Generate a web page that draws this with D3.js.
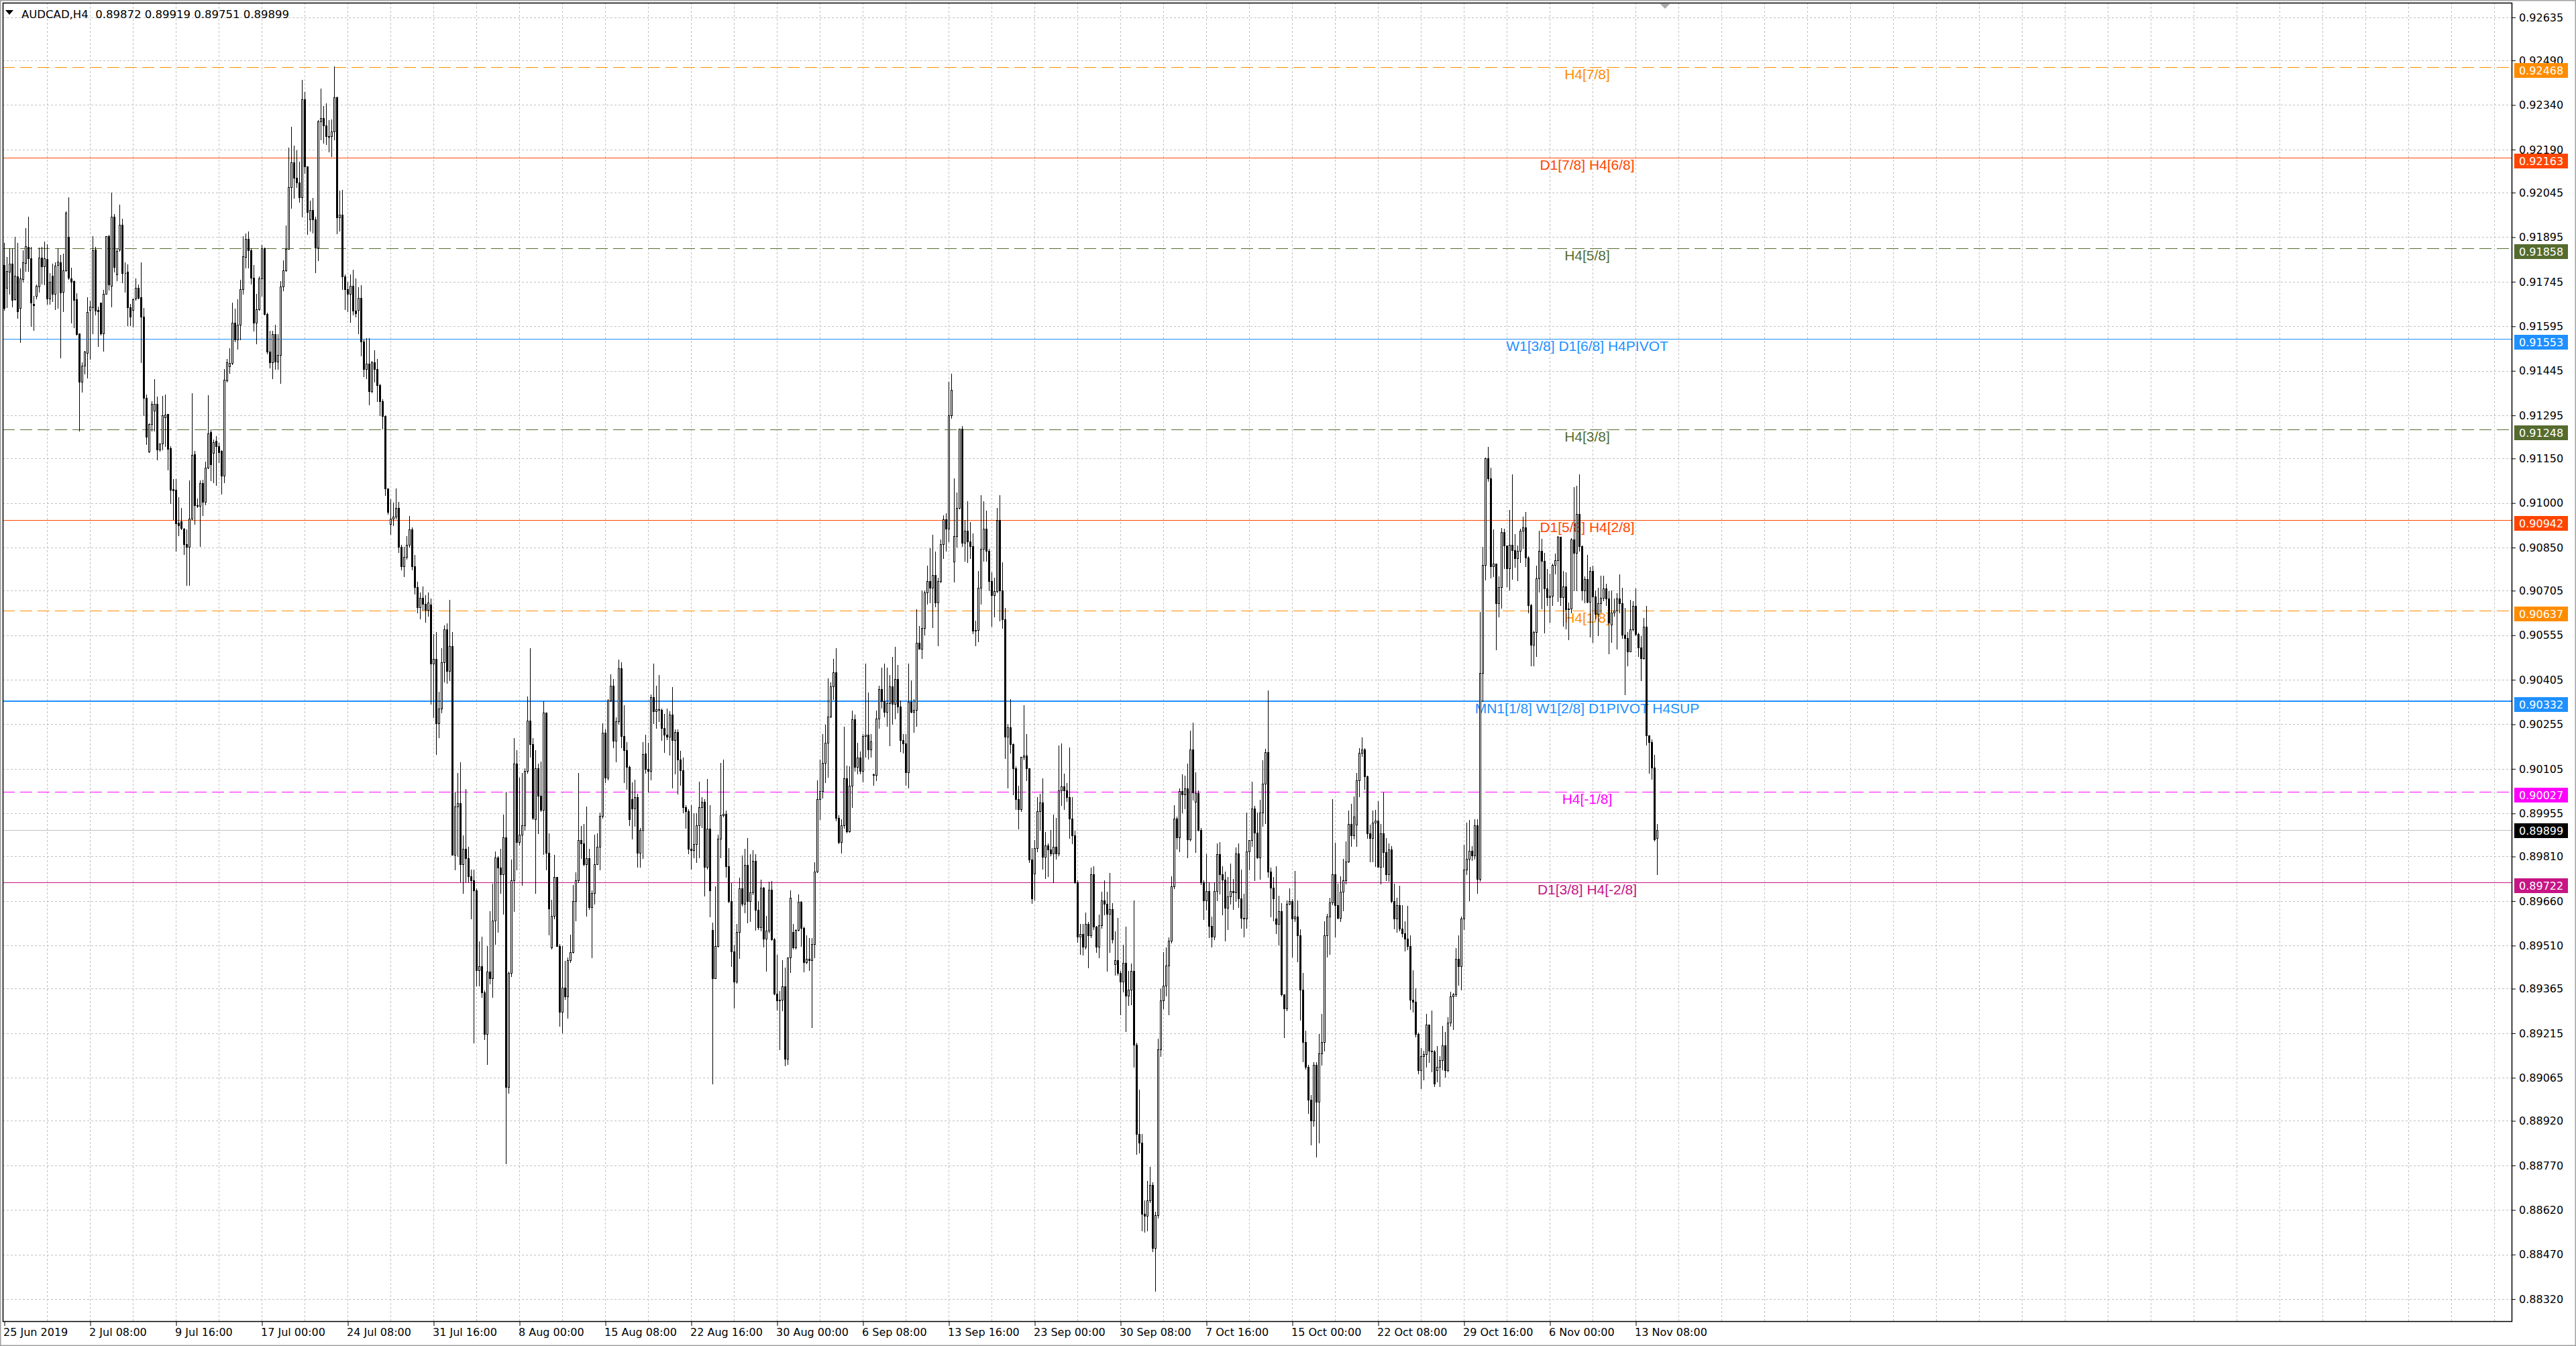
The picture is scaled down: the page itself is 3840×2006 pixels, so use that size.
<!DOCTYPE html>
<html>
<head>
<meta charset="utf-8">
<script src="https://cdn.jsdelivr.net/npm/d3@7"></script>
<style>
html, body { margin: 0; padding: 0; background: #fff; }
svg { display: block; }
</style>
</head>
<body>
<svg id="chart"></svg>
<script>

// AUDCAD H4 bars, prices in points (1 point = 0.00001)
const open = [
91801,91724,91778,91806,91686,91762,91656,91754,91809,91862,
91824,91670,91698,91728,91827,91796,91822,91689,91765,91703,
91801,91810,91712,91784,91897,91757,91748,91685,91570,91409,
91462,91506,91649,91659,91853,91649,91675,91571,91705,91899,
91732,91965,91770,91853,91937,91775,91778,91659,91649,91689,
91724,91693,91628,91353,91173,91265,91311,91334,91181,91200,
91288,91300,91185,91047,91044,90934,90939,90913,90862,90853,
90947,91164,90993,90991,91068,91003,91119,91239,91169,91210,
91192,91176,91093,91412,91460,91471,91606,91550,91601,91721,
91828,91890,91851,91759,91606,91653,91757,91857,91636,91509,
91473,91568,91476,91499,91730,91783,91855,92064,92147,92094,
92078,92029,92359,92133,91955,91987,91955,91860,92285,92297,
92271,92235,92235,92251,92365,91961,91970,91763,91719,91704,
91731,91648,91650,91690,91544,91452,91470,91377,91473,91450,
91397,91343,91294,91048,90930,90948,90954,90983,90853,90786,
90818,90859,90912,90786,90717,90650,90680,90660,90640,90659,
90460,90476,90258,90309,90465,90574,90434,90519,89816,89979,
89990,89785,89835,89804,89744,89729,89695,89427,89441,89352,
89212,89422,89399,89594,89807,89772,89749,89874,89033,89418,
89729,90122,89858,89884,89916,90099,90267,90189,89936,90107,
90014,89967,90294,89822,89505,89609,89741,89508,89287,89368,
89340,89461,89489,89660,89729,89866,89853,89785,89804,89640,
89687,89785,89842,89947,90227,90076,90336,90384,90200,90266,
90444,90216,90169,90112,90003,89972,90009,89822,89900,90156,
90105,90097,90346,90300,90306,90303,90242,90219,90213,90287,
90202,90228,90137,90101,89976,89962,89837,89832,89852,89916,
89976,89994,89774,89904,89563,89401,89509,89869,89950,89954,
89778,89660,89490,89389,89555,89702,89650,89781,89660,89690,
89795,89631,89571,89705,89534,89560,89698,89531,89348,89325,
89327,89372,89129,89469,89555,89503,89563,89658,89569,89455,
89465,89462,89515,89759,90002,90030,90124,90194,90280,90382,
90430,89940,89859,89916,90073,89895,90049,90273,90111,90143,
90097,90216,90219,90171,90087,90085,90275,90374,90333,90297,
90327,90382,90323,90408,90314,90201,90190,90093,90330,90297,
90304,90530,90508,90579,90699,90738,90715,90758,90664,90738,
90862,90945,90914,91295,90802,90888,90984,91251,90867,90906,
90871,90854,90569,90573,90715,90845,90914,90839,90738,90690,
90703,90942,90706,90608,90214,90245,90188,90106,90002,89970,
90145,90149,90106,89799,89752,89838,89963,89992,89808,89847,
89834,89821,89843,89821,90032,90045,90032,90009,89938,89882,
89722,89541,89549,89507,89583,89545,89751,89574,89507,89579,
89663,89650,89617,89633,89447,89462,89418,89389,89452,89342,
89361,89424,89177,88877,88847,88607,88600,88653,88704,88493,
88603,89161,89325,89376,89443,89526,89710,89938,89874,90030,
90018,90039,89868,90170,89995,90023,89900,89722,89663,89693,
89576,89541,89693,89817,89751,89731,89637,89675,89693,89690,
89820,89668,89604,89600,89827,89865,89972,89891,89807,89959,
90056,90162,89760,89706,89602,89583,89627,89346,89298,89650,
89659,89600,89608,89544,89362,89185,89101,88990,88922,89109,
88985,89148,89185,89544,89608,89655,89750,89647,89603,89692,
89730,89793,89920,89882,89917,90067,90158,90170,90080,89888,
89872,89925,89930,89774,89888,89825,89750,89834,89660,89600,
89647,89568,89552,89533,89508,89327,89320,89212,89090,89137,
89145,89243,89156,89153,89090,89101,89125,89175,89090,89250,
89340,89345,89465,89441,89600,89766,89803,89830,89814,89914,
89735,90427,90792,91150,91082,90788,90795,90662,90717,90903,
90857,90780,90860,90842,90814,90838,90906,90918,90817,90656,
90522,90565,90746,90838,90805,90713,90683,90688,90792,90808,
90886,90683,90720,90642,90645,90877,90833,90964,90854,90706,
90743,90667,90771,90685,90626,90663,90681,90713,90679,90590,
90632,90637,90679,90663,90556,90545,90501,90574,90654,90559,
90513,90478,90584,90218,90196,90110,89872
];
const high = [
91876,91829,91857,91857,91897,91876,91790,91850,91925,91964,
91862,91698,91735,91861,91862,91881,91871,91773,91806,91810,
91857,91834,91839,91981,92029,91792,91750,91707,91570,91473,
91511,91693,91681,91899,91862,91661,91675,91717,91899,91904,
92045,91972,91857,92005,91958,91810,91803,91670,91689,91756,
91735,91810,91656,91365,91267,91342,91417,91359,91201,91361,
91365,91300,91192,91080,91080,91019,90984,90916,90911,91075,
91370,91175,91014,91075,91078,91140,91363,91248,91213,91225,
91202,91178,91450,91485,91521,91674,91654,91686,91751,91899,
91908,91914,91857,91802,91704,91763,91869,91861,91641,91580,
91580,91601,91568,91747,91816,91934,92196,92267,92203,92188,
92149,92424,92383,92133,92019,92026,91964,92289,92395,92336,
92345,92289,92291,92469,92369,92052,92055,91769,91745,91769,
91786,91757,91727,91733,91550,91556,91556,91479,91515,91485,
91402,91349,91296,91050,91013,91001,91050,91003,90859,90853,
90889,90956,90918,90826,90735,90700,90720,90690,90700,90678,
90558,90566,90364,90511,90589,90594,90675,90566,90029,90091,
90127,89881,90037,89842,89765,89765,89702,89524,89539,89360,
89508,89625,89718,89827,89811,89835,89951,90029,89422,89800,
90208,90169,90076,90091,90107,90348,90511,90208,90169,90122,
90130,90332,90294,89889,89664,89816,89741,89516,89508,89458,
89469,89547,89713,89757,90091,89912,89920,89979,89835,89695,
89884,89889,89959,90258,90239,90340,90423,90407,90278,90472,
90465,90320,90196,90115,90060,90068,90021,89905,90196,90221,
90194,90356,90460,90384,90422,90308,90289,90308,90299,90380,
90238,90238,90166,90143,89983,89969,89983,89956,89956,90061,
90010,90002,90070,89983,89588,89709,89883,90126,90137,89964,
89838,89721,89512,89582,89738,89814,89836,89871,89817,89831,
89819,89660,89731,89707,89610,89726,89728,89536,89479,89357,
89460,89436,89469,89696,89584,89564,89683,89660,89574,89544,
89536,89536,89791,90066,90137,90223,90254,90409,90397,90476,
90511,89950,89935,90247,90116,90114,90302,90287,90194,90164,
90223,90460,90362,90223,90090,90301,90385,90447,90460,90447,
90421,90482,90515,90456,90336,90223,90223,90460,90404,90339,
90642,90586,90706,90706,90789,90849,90893,90836,90748,90878,
90958,90966,91409,91435,91082,91036,91251,91260,90942,91005,
90936,90897,90605,90771,91027,91007,90975,90845,90767,90748,
90984,91027,90800,90647,90255,90339,90190,90113,90048,90145,
90320,90223,90106,89838,89866,90009,90022,90074,89892,89853,
89899,89951,89941,90184,90190,90089,90058,90177,90009,89896,
89729,89583,89583,89621,89589,89773,89777,89576,89614,89691,
89729,89691,89754,89652,89557,89604,89424,89513,89574,89424,
89450,89663,89183,89025,88877,88653,88717,88765,88714,88613,
89196,89367,89488,89503,89538,89744,89982,89944,90039,90086,
90083,90122,90233,90261,90094,90033,89906,89729,89817,89722,
89608,89722,89853,89858,89777,89760,89741,89786,89735,89840,
89855,89767,89684,89959,89865,90061,89980,89959,90001,90134,
90172,90370,89773,89741,89777,89678,89652,89346,89663,89703,
89666,89762,89663,89565,89418,89223,89109,89006,89117,89117,
89212,89280,89592,89616,89671,90004,89857,89719,89743,89803,
89861,89964,89988,90012,90091,90174,90210,90175,90083,89917,
89964,89968,89996,89920,90025,89872,89853,89846,89719,89671,
89711,89647,89592,89644,89544,89426,89365,89216,89164,89156,
89280,89243,89291,89159,89172,89137,89239,89220,89270,89354,
89350,89502,89544,89608,89850,89925,89933,89846,89936,89936,
90633,90852,91153,91188,91118,90912,90795,90754,90915,90914,
90858,90976,91096,90895,90858,90914,90955,90969,90820,90660,
90571,90789,90906,90879,90833,90777,90762,90796,90831,90888,
90886,90771,90766,90665,90881,91054,91057,91096,90858,90752,
90826,90785,90789,90706,90715,90755,90755,90729,90703,90706,
90679,90697,90759,90715,90646,90565,90674,90669,90713,90563,
90552,90614,90654,90218,90204,90153,89919
];
const low = [
91650,91660,91703,91661,91684,91623,91541,91745,91782,91782,
91595,91581,91689,91712,91737,91735,91670,91670,91679,91653,
91656,91490,91646,91782,91754,91606,91592,91567,91243,91375,
91436,91422,91484,91571,91635,91529,91567,91512,91705,91717,
91661,91778,91750,91848,91743,91712,91597,91597,91593,91684,
91689,91473,91295,91197,91171,91244,91244,91147,91175,91181,
91192,91112,90999,90944,90838,90892,90911,90827,90724,90724,
90944,90930,90986,90855,90958,90995,91117,91075,91070,91060,
91137,91030,91069,91408,91438,91467,91544,91518,91550,91704,
91792,91792,91737,91580,91538,91651,91698,91633,91503,91456,
91420,91450,91450,91403,91716,91781,91855,91993,92026,92064,
92014,91964,92111,91905,91916,91910,91777,91818,92224,92212,
92208,92182,92168,92224,91908,91916,91719,91653,91645,91609,
91633,91627,91570,91497,91426,91420,91332,91373,91408,91343,
91296,91249,91027,90963,90895,90924,90948,90835,90776,90753,
90812,90853,90776,90694,90630,90610,90640,90600,90620,90325,
90278,90154,90211,90294,90398,90395,90402,89816,89765,89811,
89726,89687,89726,89726,89601,89184,89376,89376,89337,89194,
89111,89383,89337,89516,89555,89687,89617,88777,89013,89407,
89625,89765,89850,89713,89900,90091,90146,89936,89687,89889,
89962,89819,89765,89547,89500,89601,89508,89240,89216,89329,
89267,89454,89485,89594,89723,89804,89780,89609,89632,89469,
89651,89785,89765,89941,90060,90068,90333,90177,90130,90255,
90177,90060,90037,89916,89869,89912,89776,89776,89804,90092,
90029,90069,90259,90242,90266,90202,90162,90204,90152,90042,
90088,90021,90050,89959,89905,89821,89769,89807,89791,89807,
89909,89677,89769,89607,89046,89399,89507,89807,89945,89740,
89655,89441,89300,89384,89467,89645,89621,89588,89591,89683,
89563,89564,89560,89507,89424,89553,89528,89346,89293,89160,
89291,89106,89110,89420,89500,89500,89560,89509,89422,89450,
89427,89236,89469,89757,89935,90007,90059,90078,90278,90340,
89931,89855,89823,89907,89890,89893,89975,90099,90088,90089,
90061,90145,90138,90145,90050,90067,90242,90310,90281,90249,
90184,90255,90275,90294,90164,90158,90050,90041,90294,90229,
90249,90508,90478,90556,90660,90664,90582,90651,90521,90732,
90813,90839,90871,91286,90735,90852,90981,90854,90806,90800,
90813,90560,90521,90534,90660,90806,90806,90706,90586,90618,
90699,90605,90579,90141,90041,90158,90019,89970,89903,89963,
90136,90067,89791,89652,89665,89827,89899,89769,89737,89743,
89814,89724,89801,89814,89983,89970,89996,89873,89853,89720,
89523,89481,89478,89500,89437,89538,89564,89488,89469,89570,
89614,89424,89488,89519,89412,89412,89279,89355,89221,89310,
89313,89101,88809,88813,88550,88547,88550,88645,88480,88347,
88594,89139,89298,89342,89279,89519,89703,89836,89827,89959,
89972,89807,89862,90001,89824,89896,89716,89599,89630,89538,
89507,89532,89663,89684,89614,89526,89564,89650,89633,89659,
89640,89570,89541,89570,89767,89845,89729,89805,89735,89912,
89921,89741,89608,89595,89551,89513,89342,89202,89291,89648,
89473,89592,89457,89259,89121,89096,88947,88839,88903,88800,
88847,89109,89156,89473,89481,89648,89540,89600,89592,89628,
89719,89790,89846,89869,89846,90012,90148,90036,89872,89793,
89793,89777,89774,89719,89774,89730,89727,89655,89568,89556,
89560,89540,89492,89497,89296,89286,89204,89080,89029,89058,
89101,89117,89085,89037,89053,89037,89093,89069,89085,89240,
89228,89339,89378,89362,89565,89750,89663,89798,89803,89687,
89727,90332,90741,91074,90749,90754,90506,90617,90646,90780,
90720,90709,90743,90785,90740,90801,90849,90786,90632,90453,
90453,90485,90702,90644,90563,90656,90600,90656,90762,90669,
90656,90586,90577,90540,90632,90706,90706,90840,90674,90665,
90665,90549,90531,90611,90554,90632,90672,90656,90494,90531,
90619,90508,90632,90545,90356,90453,90499,90571,90554,90485,
90402,90476,90185,90091,90070,89864,89751
];
const close = [
91656,91780,91806,91684,91765,91646,91756,91810,91865,91824,
91675,91665,91731,91827,91796,91824,91689,91745,91703,91799,
91812,91709,91784,91977,91759,91745,91684,91569,91409,91462,
91509,91642,91662,91851,91648,91646,91571,91705,91899,91735,
91963,91794,91848,91937,91775,91773,91658,91628,91687,91724,
91690,91628,91353,91222,91265,91334,91333,91181,91200,91295,
91297,91183,91044,91042,90932,90925,90916,90862,90853,90947,
91162,90993,90990,91068,91003,91119,91234,91131,91206,91192,
91172,91093,91414,91473,91471,91606,91550,91601,91721,91830,
91890,91851,91759,91606,91653,91757,91857,91636,91509,91473,
91568,91476,91499,91730,91783,91855,92064,92147,92094,92078,
92029,92359,92133,91979,91987,91955,91860,92285,92297,92271,
92235,92233,92251,92365,91961,91970,91763,91719,91704,91731,
91648,91639,91690,91544,91452,91470,91377,91473,91450,91397,
91343,91294,91048,90971,90948,90954,90983,90853,90786,90818,
90859,90912,90786,90717,90650,90680,90660,90640,90665,90460,
90476,90258,90309,90465,90574,90434,90519,89816,89979,89990,
89785,89835,89804,89744,89729,89695,89427,89441,89352,89212,
89422,89399,89594,89807,89772,89749,89874,89033,89418,89729,
90122,89858,89884,89916,90099,90267,90189,89940,90107,90014,
89967,90294,89822,89636,89609,89741,89508,89287,89368,89340,
89461,89489,89660,89729,89866,89853,89785,89804,89640,89687,
89785,89842,89947,90227,90076,90336,90384,90200,90266,90444,
90216,90169,90112,89936,89972,90009,89822,89900,90154,90105,
90097,90346,90300,90306,90303,90242,90219,90213,90287,90202,
90228,90137,90101,89976,89962,89837,89832,89852,89916,89976,
89994,89774,89904,89696,89401,89509,89869,89950,89954,89778,
89660,89490,89389,89555,89702,89650,89781,89660,89690,89795,
89631,89571,89705,89534,89560,89698,89531,89348,89325,89327,
89372,89129,89469,89672,89503,89563,89658,89569,89455,89465,
89462,89515,89759,90002,90030,90124,90194,90280,90382,90430,
89940,89859,89916,90073,89895,90049,90273,90111,90143,90097,
90216,90219,90171,90197,90085,90275,90374,90333,90297,90327,
90382,90323,90408,90314,90201,90190,90093,90330,90297,90304,
90530,90508,90579,90699,90738,90715,90758,90664,90738,90862,
90945,90914,91295,91381,90888,90984,91251,90867,90906,90871,
90854,90569,90573,90715,90845,90914,90839,90738,90690,90703,
90942,90706,90608,90214,90245,90188,90106,90002,89970,90145,
90149,90106,89799,89669,89838,89963,89992,89808,89847,89834,
89821,89843,89821,90032,90045,90032,90009,89938,89882,89722,
89541,89549,89507,89583,89545,89751,89574,89507,89579,89663,
89650,89617,89633,89532,89462,89418,89389,89452,89342,89361,
89424,89177,88877,88847,88607,88600,88653,88704,88493,88603,
89161,89325,89376,89443,89526,89710,89938,89874,90030,90018,
90039,89868,90170,90026,90023,89900,89722,89663,89693,89576,
89541,89693,89817,89751,89731,89637,89675,89693,89690,89820,
89668,89604,89600,89827,89865,89972,89891,89807,89959,90056,
90162,89760,89706,89668,89583,89627,89346,89298,89650,89659,
89600,89608,89544,89362,89185,89101,88990,88922,89109,88985,
89148,89185,89544,89608,89655,89750,89647,89603,89692,89730,
89793,89920,89882,89945,90067,90158,90170,90080,89888,89872,
89925,89930,89774,89888,89825,89750,89834,89660,89600,89647,
89568,89552,89533,89508,89327,89320,89212,89090,89137,89145,
89243,89156,89153,89045,89101,89125,89175,89090,89250,89340,
89345,89465,89441,89600,89766,89803,89830,89814,89914,89735,
90427,90792,91150,91082,90788,90795,90662,90717,90903,90857,
90780,90860,90842,90814,90838,90906,90918,90817,90656,90522,
90565,90746,90838,90805,90713,90683,90688,90792,90808,90886,
90683,90720,90642,90645,90877,90833,90964,90854,90706,90743,
90667,90771,90685,90626,90663,90681,90713,90679,90598,90632,
90637,90679,90663,90556,90545,90501,90574,90654,90559,90513,
90478,90584,90218,90196,90110,89867,89899
];

// time axis labels, one every 32 bars
const dateLabels = ["25 Jun 2019","2 Jul 08:00","9 Jul 16:00","17 Jul 00:00","24 Jul 08:00",
  "31 Jul 16:00","8 Aug 00:00","15 Aug 08:00","22 Aug 16:00","30 Aug 00:00","6 Sep 08:00",
  "13 Sep 16:00","23 Sep 00:00","30 Sep 08:00","7 Oct 16:00","15 Oct 00:00","22 Oct 08:00",
  "29 Oct 16:00","6 Nov 00:00","13 Nov 08:00"];

// price axis ticks
const yTicks = [0.92635,0.92490,0.92340,0.92190,0.92045,0.91895,0.91745,0.91595,0.91445,
  0.91295,0.91150,0.91000,0.90850,0.90705,0.90555,0.90405,0.90255,0.90105,0.89955,0.89810,
  0.89660,0.89510,0.89365,0.89215,0.89065,0.88920,0.88770,0.88620,0.88470,0.88320];

// murrey / pivot levels
const levelPrices = [0.92468,0.92163,0.91858,0.91553,0.91248,0.90942,0.90637,0.90332,0.90027,0.89722];
const levelTexts = ["H4[7/8]","D1[7/8] H4[6/8]","H4[5/8]","W1[3/8] D1[6/8] H4PIVOT","H4[3/8]",
  "D1[5/8] H4[2/8]","H4[1/8]","MN1[1/8] W1[2/8] D1PIVOT H4SUP","H4[-1/8]","D1[3/8] H4[-2/8]"];
const bidPrice = 0.89899;

// styles
const levelColors = ["#ff8c00","#ff4500","#556b2f","#1e90ff","#556b2f","#ff4500","#ff8c00","#1e90ff","#ff00ff","#c71585"];
const levelDashed = [true,false,true,false,true,false,true,false,true,false];
const levelWidth  = [1,1,1,1,1,1,1,2,1,1];

const W = 3840, H = 2006;
const X0 = 4, X1 = 3745, Y0 = 4, Y1 = 1970;
const AXIS_FONT = "'DejaVu Sans', Verdana, sans-serif";

const bars = open.map((o, i) => ({
  i, o: o / 1e5, h: high[i] / 1e5, l: low[i] / 1e5, c: close[i] / 1e5
}));

const x = d3.scaleLinear().domain([0, 934]).range([6, 6 + 4 * 934]);
const y = d3.scaleLinear().domain([0.88320, 0.92635]).range([1936.1, 25.9]);
const py = p => Math.round(y(p)) + 0.5;

const svg = d3.select("#chart").attr("width", W).attr("height", H);

svg.append("rect").attr("width", W).attr("height", H).attr("fill", "#fff");
svg.append("rect")
  .attr("x", 0.75).attr("y", 0.75).attr("width", W - 1.5).attr("height", H - 1.5)
  .attr("fill", "none").attr("stroke", "#a0a0a0").attr("stroke-width", 1.5);

svg.append("clipPath").attr("id", "plotclip")
  .append("rect").attr("x", X0).attr("y", Y0).attr("width", X1 - X0).attr("height", Y1 - Y0);

const plot = svg.append("g").attr("clip-path", "url(#plotclip)");

// grid
const grid = plot.append("g")
  .attr("stroke", "#c0c0c0").attr("stroke-dasharray", "3,3")
  .attr("shape-rendering", "crispEdges");
grid.selectAll(".hg").data(yTicks).join("line").attr("class", "hg")
  .attr("x1", X0).attr("x2", X1).attr("y1", py).attr("y2", py);
grid.selectAll(".vg").data(d3.range(16, 934, 16)).join("line").attr("class", "vg")
  .attr("x1", d => x(d) + 0.5).attr("x2", d => x(d) + 0.5).attr("y1", Y0).attr("y2", Y1);

// level lines
plot.append("g").selectAll("line").data(levelPrices).join("line")
  .attr("x1", X0).attr("x2", X1)
  .attr("y1", (d, i) => levelWidth[i] === 2 ? Math.round(y(d)) : py(d))
  .attr("y2", (d, i) => levelWidth[i] === 2 ? Math.round(y(d)) : py(d))
  .attr("stroke", (d, i) => levelColors[i])
  .attr("stroke-width", (d, i) => levelWidth[i])
  .attr("stroke-dasharray", (d, i) => levelDashed[i] ? "18,8" : null)
  .attr("shape-rendering", "crispEdges");

// level captions
plot.append("g").selectAll("text").data(levelPrices).join("text")
  .attr("x", x(590)).attr("y", d => y(d) + 18)
  .attr("text-anchor", "middle")
  .attr("font-family", "'Liberation Sans', Arial, sans-serif")
  .attr("font-size", 21)
  .attr("fill", (d, i) => levelColors[i])
  .text((d, i) => levelTexts[i]);

// bid line
plot.append("line")
  .attr("x1", X0).attr("x2", X1).attr("y1", py(bidPrice)).attr("y2", py(bidPrice))
  .attr("stroke", "#c0c0c0").attr("shape-rendering", "crispEdges");

// candles
const candles = plot.append("g").attr("shape-rendering", "crispEdges");
candles.selectAll("line").data(bars).join("line")
  .attr("x1", d => x(d.i) + 0.5).attr("x2", d => x(d.i) + 0.5)
  .attr("y1", d => Math.round(y(d.h))).attr("y2", d => Math.round(y(d.l)) + 1)
  .attr("stroke", "#000");
candles.selectAll("path").data(bars).join("path")
  .attr("d", d => {
    const yt = py(Math.max(d.o, d.c));
    const yb = py(Math.min(d.o, d.c));
    const xl = x(d.i) - 0.5;
    return `M${xl},${yt}H${xl + 2}V${yb}H${xl}Z`;
  })
  .attr("fill", d => d.c >= d.o ? "#fff" : "#000")
  .attr("stroke", "#000");

// frame
svg.append("rect")
  .attr("x", X0 + 0.5).attr("y", Y0 + 0.5).attr("width", X1 - X0 - 1).attr("height", Y1 - Y0 - 1)
  .attr("fill", "none").attr("stroke", "#000").attr("stroke-width", 1.5);

// chart shift marker
svg.append("path").attr("d", `M${x(617)},${Y0 + 1}h16l-8,8z`).attr("fill", "#a9a9a9");

// price axis
const yAxis = d3.axisRight(y).tickValues(yTicks).tickFormat(d3.format(".5f")).tickSize(5).tickPadding(5);
svg.append("g").attr("transform", `translate(${X1},0)`).call(yAxis)
  .call(g => g.select(".domain").remove())
  .call(g => g.selectAll("line").attr("stroke", "#000"))
  .call(g => g.selectAll("text").attr("font-family", AXIS_FONT).attr("font-size", 16).attr("fill", "#000"));

// time axis
const dateIdx = dateLabels.map((d, k) => k * 32);
const xAxis = d3.axisBottom(x).tickValues(dateIdx).tickFormat((d, k) => dateLabels[k]).tickSize(6).tickPadding(4);
svg.append("g").attr("transform", `translate(0.5,${Y1})`).call(xAxis)
  .call(g => g.select(".domain").remove())
  .call(g => g.selectAll("line").attr("stroke", "#000"))
  .call(g => g.selectAll("text").attr("text-anchor", "start").attr("x", -2)
    .attr("font-family", AXIS_FONT).attr("font-size", 16).attr("fill", "#000"));

// price tags on the axis
const tags = svg.append("g");
const tagData = levelPrices.map((p, i) => ({ p, color: levelColors[i], off: -6 }))
  .concat([{ p: bidPrice, color: "#000", off: -10 }]);
tags.selectAll("rect").data(tagData).join("rect")
  .attr("x", X1 + 3).attr("y", d => Math.round(y(d.p)) + d.off)
  .attr("width", 80).attr("height", 22).attr("fill", d => d.color);
tags.selectAll("text").data(tagData).join("text")
  .attr("x", X1 + 10).attr("y", d => Math.round(y(d.p)) + d.off + 11)
  .attr("dy", "0.36em")
  .attr("font-family", AXIS_FONT).attr("font-size", 16).attr("fill", "#fff")
  .text(d => d3.format(".5f")(d.p));

// title
svg.append("path").attr("d", "M8,15h12l-6,7z").attr("fill", "#000");
svg.append("text").attr("x", 32).attr("y", 27)
  .attr("font-family", AXIS_FONT).attr("font-size", 16.5).attr("fill", "#000")
  .style("white-space", "pre")
  .text("AUDCAD,H4  0.89872 0.89919 0.89751 0.89899");

</script>
</body>
</html>
